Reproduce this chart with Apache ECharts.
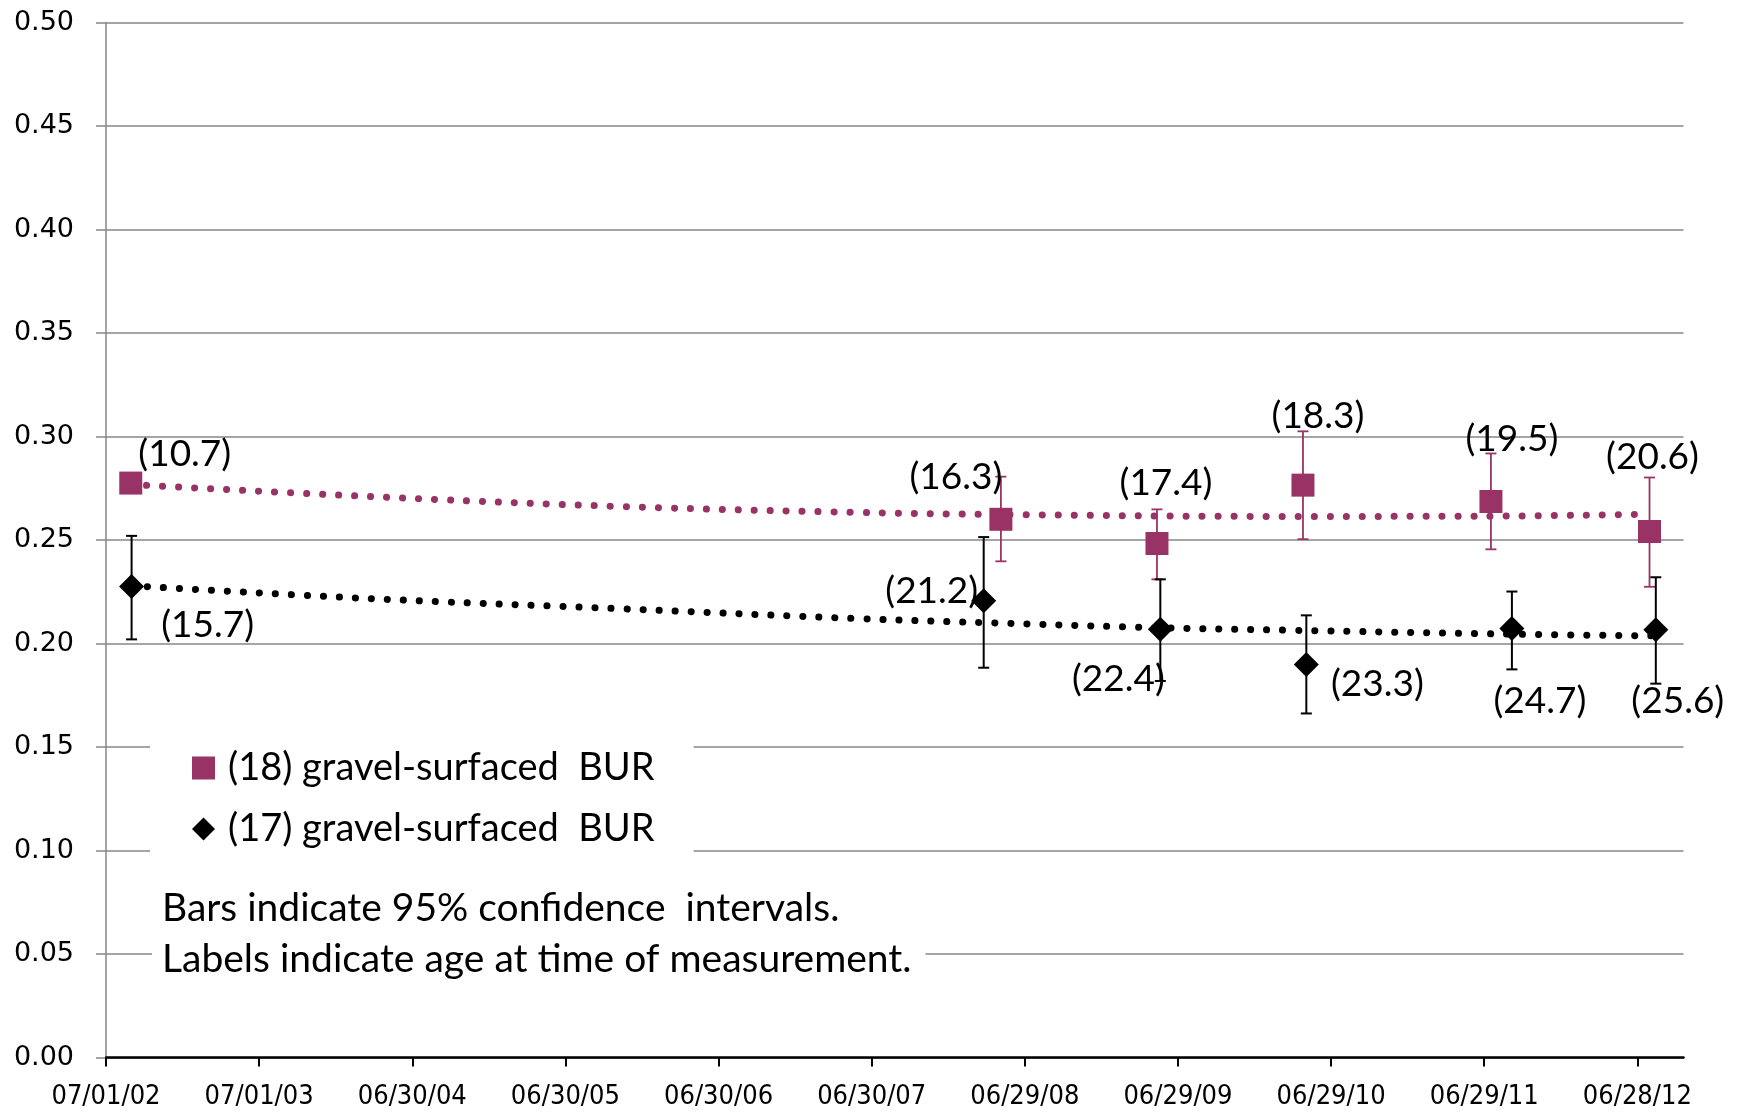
<!DOCTYPE html>
<html><head><meta charset="utf-8">
<script src="https://cdn.jsdelivr.net/npm/echarts@6/dist/echarts.min.js"></script>
<style>html,body{margin:0;padding:0;background:#fff}#c{width:1743px;height:1113px}</style>
</head><body><div id="c"></div>
<script>
// ---------- data ----------
const startDate = '2002-07-01';
const endDate = '2012-10-16';
const xTickDates = ['2002-07-01','2003-07-01','2004-06-30','2005-06-30','2006-06-30','2007-06-30','2008-06-29','2009-06-29','2010-06-29','2011-06-29','2012-06-28'];
const yTicks = [0,0.05,0.10,0.15,0.20,0.25,0.30,0.35,0.40,0.45,0.50];

const name18 = '(18) gravel-surfaced  BUR';
const dates18 = ['2002-08-29','2008-05-03','2009-05-10','2010-04-23','2011-07-15','2012-07-27'];
const values18 = [0.2775,0.2600,0.2483,0.2765,0.2686,0.2541];
const low18 = [0.2740,0.2397,0.2310,0.2504,0.2455,0.2274];
const high18 = [0.2810,0.2806,0.2648,0.3025,0.2918,0.2802];
const ages18 = [10.7,16.3,17.4,18.3,19.5,20.6];

const name17 = '(17) gravel-surfaced  BUR';
const dates17 = ['2002-08-31','2008-03-23','2009-05-18','2010-05-01','2011-09-03','2012-08-11'];
const values17 = [0.2275,0.2206,0.2069,0.1899,0.2072,0.2067];
const low17 = [0.2020,0.1883,0.1819,0.1662,0.1875,0.1806];
const high17 = [0.2520,0.2514,0.2310,0.2136,0.2251,0.2320];
const ages17 = [15.7,21.2,22.4,23.3,24.7,25.6];

const trend18Dates = ['2002-08-29','2004-03-21','2005-11-07','2007-06-02','2008-06-30','2010-03-07','2011-06-19','2012-07-27'];
const trend18Values = [0.2768,0.2710,0.2662,0.2633,0.2622,0.2614,0.2615,0.2625];
const trend17Dates = ['2002-08-31','2004-03-21','2005-11-07','2007-06-02','2008-03-21','2009-05-17','2010-03-24','2011-09-03','2012-08-11'];
const trend17Values = [0.2279,0.2217,0.2168,0.2120,0.2101,0.2076,0.2064,0.2045,0.2037];

const noteText = 'Bars indicate 95% confidence  intervals.\nLabels indicate age at time of measurement.';

// ---------- layout / style (not data) ----------
const labelOffsets18 = [[54,-29],[-45,-42],[9,-60],[15,-69],[21,-62],[3,-74]];
const labelOffsets17 = [[76,38],[-52,-10],[-42,50],[71,20],[28,72],[22,71]];
const C18 = '#993366', C17 = '#000000';
const LABEL_FONT = 'Lato';

function day(s){ const p=s.split('-').map(Number); const q=startDate.split('-').map(Number);
  return Math.round((Date.UTC(p[0],p[1]-1,p[2]) - Date.UTC(q[0],q[1]-1,q[2]))/86400000); }
const tickDays = xTickDates.map(day);
const tickLabelMap = {};
xTickDates.forEach(s=>{ const p=s.split('-'); tickLabelMap[day(s)] = p[1]+'/'+p[2]+'/'+p[0].slice(2); });

function errRender(color, lw, cap){
  return function(params, api){
    const x = api.value(0);
    const lo = api.coord([x, api.value(1)]);
    const hi = api.coord([x, api.value(2)]);
    const h = cap/2, st = {stroke: color, lineWidth: lw};
    return {type:'group', children:[
      {type:'line', shape:{x1:lo[0],y1:lo[1],x2:hi[0],y2:hi[1]}, style:st},
      {type:'line', shape:{x1:lo[0]-h,y1:lo[1],x2:lo[0]+h,y2:lo[1]}, style:st},
      {type:'line', shape:{x1:hi[0]-h,y1:hi[1],x2:hi[0]+h,y2:hi[1]}, style:st}
    ]};
  };
}
function pts(dates, vals, offs){
  return dates.map((d,i)=>({value:[day(d), vals[i]], label:{offset:offs[i]}}));
}
function errData(dates, lo, hi){ return dates.map((d,i)=>[day(d), lo[i], hi[i]]); }
function trendData(dates, vals){ return dates.map((d,i)=>[day(d), vals[i]]); }

const chart = echarts.init(document.getElementById('c'), null, {renderer:'canvas'});
const option = {
  animation: false,
  backgroundColor: '#fff',
  grid: {left:106, right:59.5, top:22.5, bottom:55.5, containLabel:false},
  title: {
    text: noteText, left: 152, top: 879, padding:[4,14,4,10], backgroundColor:'#fff',
    textStyle:{fontFamily:LABEL_FONT, fontSize:39, fontWeight:'normal', lineHeight:51, color:'#000'}
  },
  legend: {
    data:[{name:name18, icon:'rect'},{name:name17, icon:'diamond'}],
    orient:'vertical', left:150, top:728, padding:[20,39,12,42],
    itemWidth:23, itemHeight:23, itemGap:21, backgroundColor:'#fff', selectedMode:false,
    textStyle:{fontFamily:LABEL_FONT, fontSize:38, color:'#000', lineHeight:40, padding:[0,0,0,8]}
  },
  xAxis: {
    type:'value', min:0, max:day(endDate), interval:365,
    splitLine:{show:false},
    axisLine:{show:true, lineStyle:{color:'#000', width:2.5}},
    axisTick:{show:true, length:9, customValues:tickDays, lineStyle:{color:'#000', width:2}},
    axisLabel:{customValues:tickDays, margin:26, fontFamily:'Liberation Sans Narrow, DejaVu Sans Condensed, sans-serif', fontSize:27, color:'#000',
      formatter: v => tickLabelMap[Math.round(v)] || ''}
  },
  yAxis: {
    type:'value', min:0, max:0.5, interval:0.05,
    axisLine:{show:true, lineStyle:{color:'#878787', width:1.5}},
    axisTick:{show:true, length:10, lineStyle:{color:'#878787', width:1.5}},
    splitLine:{show:true, lineStyle:{color:'#878787', width:1.5}},
    axisLabel:{margin:32, fontFamily:'DejaVu Sans', fontSize:27, color:'#000',
      customValues: yTicks, formatter: v => Number(v).toFixed(2)}
  },
  series: [
    {type:'line', name:'trend18', data:trendData(trend18Dates, trend18Values), showSymbol:false, symbol:'none', smooth:0.4, silent:true, z:1,
     lineStyle:{color:C18, width:7, type:[0.1,15.9], cap:'round'}},
    {type:'line', name:'trend17', data:trendData(trend17Dates, trend17Values), showSymbol:false, symbol:'none', smooth:0.4, silent:true, z:1,
     lineStyle:{color:C17, width:7, type:[0.1,15.9], cap:'round'}},
    {type:'custom', name:'err18', data:errData(dates18, low18, high18), renderItem:errRender(C18, 1.8, 11), encode:{x:0, y:[1,2]}, z:2, silent:true},
    {type:'custom', name:'err17', data:errData(dates17, low17, high17), renderItem:errRender(C17, 2, 11), encode:{x:0, y:[1,2]}, z:2, silent:true},
    {type:'scatter', name:name18, data:pts(dates18, values18, labelOffsets18), symbol:'rect', symbolSize:23, z:3,
     itemStyle:{color:C18, opacity:1},
     label:{show:true, position:'inside', fontFamily:LABEL_FONT, fontSize:37, color:'#000',
       formatter:p=>'('+ages18[p.dataIndex].toFixed(1)+')'}},
    {type:'scatter', name:name17, data:pts(dates17, values17, labelOffsets17), symbol:'diamond', symbolSize:[25,25], z:3,
     itemStyle:{color:C17, opacity:1},
     label:{show:true, position:'inside', fontFamily:LABEL_FONT, fontSize:37, color:'#000',
       formatter:p=>'('+ages17[p.dataIndex].toFixed(1)+')'}}
  ]
};
chart.setOption(option);
</script></body></html>
